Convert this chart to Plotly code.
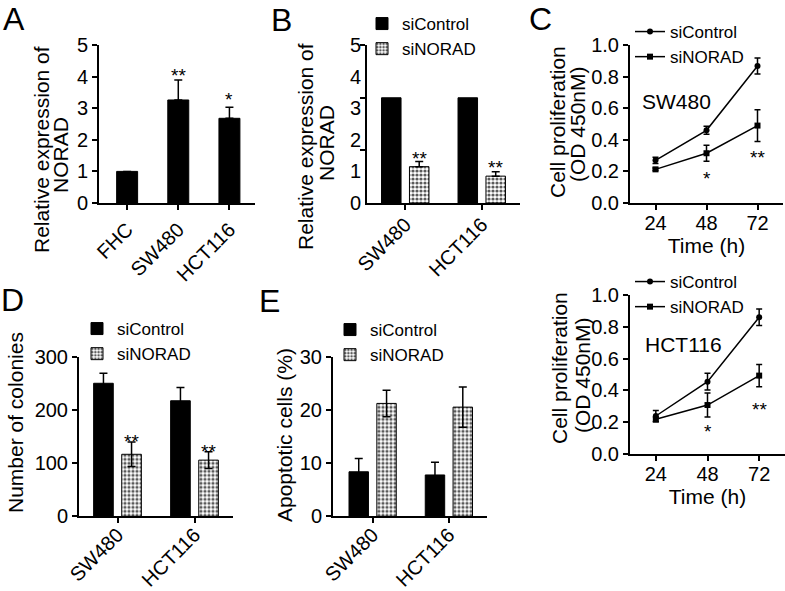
import plotly.graph_objects as go

W, H = 785, 591

# ---------------- data ----------------
a_categories = ["FHC", "SW480", "HCT116"]
a_values = [1.0, 3.26, 2.68]
a_errors = [0.0, 0.63, 0.35]

b_categories = ["SW480", "HCT116"]
b_sicontrol = [3.33, 3.33]
b_sinorad = [1.15, 0.85]
b_sinorad_err = [0.16, 0.14]
b_ticklabels = ["0", "1", "2", "3", "4", "5"]

c_time = [24, 48, 72]
c_sw480_sicontrol = [0.27, 0.46, 0.867]
c_sw480_sicontrol_err = [0.02, 0.025, 0.05]
c_sw480_sinorad = [0.213, 0.315, 0.49]
c_sw480_sinorad_err = [0.008, 0.05, 0.1]
c_hct116_sicontrol = [0.239, 0.455, 0.86]
c_hct116_sicontrol_err = [0.035, 0.053, 0.052]
c_hct116_sinorad = [0.218, 0.308, 0.493]
c_hct116_sinorad_err = [0.015, 0.075, 0.07]

d_categories = ["SW480", "HCT116"]
d_sicontrol = [251, 218]
d_sicontrol_err = [19, 25]
d_sinorad = [117, 106]
d_sinorad_err = [23, 16]

e_categories = ["SW480", "HCT116"]
e_sicontrol = [8.4, 7.8]
e_sicontrol_err = [2.5, 2.4]
e_sinorad = [21.3, 20.6]
e_sinorad_err = [2.5, 3.8]

# ---------------- helpers ----------------
FONT = "Arial, Liberation Sans, Helvetica, sans-serif"


def px(x):
    return x / W


def py(y):
    return 1 - y / H


def dom_x(a, b):
    return [px(a), px(b)]


def dom_y(top, bottom):
    return [py(bottom), py(top)]


BAR_W = 0.255
OFF_CTRL = -0.31
OFF_SI = 0.055

solid = dict(color="black", line=dict(color="black", width=1))
checker = dict(color="white", line=dict(color="black", width=1),
               pattern=dict(shape=".", fgcolor="#5a5a5a", bgcolor="white",
                            size=4, solidity=0.5, fillmode="replace"))


def ebar(arr, minus=None, width=4):
    d = dict(type="data", array=arr, color="black", thickness=1.5, width=width, visible=True)
    if minus is not None:
        d.update(symmetric=False, arrayminus=minus)
    return d


fig = go.Figure()

# Panel A
fig.add_trace(go.Bar(x=a_categories, y=a_values, width=0.41, marker=solid,
                     error_y=ebar(a_errors, [0] * len(a_errors)),
                     xaxis="x", yaxis="y", showlegend=False))

# Panel B
fig.add_trace(go.Bar(x=b_categories, y=b_sicontrol, name="siControl", width=BAR_W, offset=OFF_CTRL,
                     marker=solid, xaxis="x2", yaxis="y2", legend="legend"))
fig.add_trace(go.Bar(x=b_categories, y=b_sinorad, name="siNORAD", width=BAR_W, offset=OFF_SI,
                     marker=checker, error_y=ebar(b_sinorad_err, [0, 0]),
                     xaxis="x2", yaxis="y2", legend="legend"))


# Panel C top / bottom
def line_pair(ctrl, ctrl_err, si, si_err, xa, ya, leg):
    fig.add_trace(go.Scatter(x=c_time, y=ctrl, name="siControl", mode="lines+markers",
                             line=dict(color="black", width=1.5),
                             marker=dict(symbol="circle", size=6, color="black"),
                             error_y=ebar(ctrl_err, width=3), xaxis=xa, yaxis=ya, legend=leg))
    fig.add_trace(go.Scatter(x=c_time, y=si, name="siNORAD", mode="lines+markers",
                             line=dict(color="black", width=1.5),
                             marker=dict(symbol="square", size=6, color="black"),
                             error_y=ebar(si_err, width=3), xaxis=xa, yaxis=ya, legend=leg))


line_pair(c_sw480_sicontrol, c_sw480_sicontrol_err, c_sw480_sinorad, c_sw480_sinorad_err,
          "x3", "y3", "legend2")
line_pair(c_hct116_sicontrol, c_hct116_sicontrol_err, c_hct116_sinorad, c_hct116_sinorad_err,
          "x4", "y4", "legend3")

# Panel D
fig.add_trace(go.Bar(x=d_categories, y=d_sicontrol, name="siControl", width=BAR_W, offset=OFF_CTRL,
                     marker=solid, error_y=ebar(d_sicontrol_err),
                     xaxis="x5", yaxis="y5", legend="legend4"))
fig.add_trace(go.Bar(x=d_categories, y=d_sinorad, name="siNORAD", width=BAR_W, offset=OFF_SI,
                     marker=checker, error_y=ebar(d_sinorad_err),
                     xaxis="x5", yaxis="y5", legend="legend4"))

# Panel E
fig.add_trace(go.Bar(x=e_categories, y=e_sicontrol, name="siControl", width=BAR_W, offset=OFF_CTRL,
                     marker=solid, error_y=ebar(e_sicontrol_err),
                     xaxis="x6", yaxis="y6", legend="legend5"))
fig.add_trace(go.Bar(x=e_categories, y=e_sinorad, name="siNORAD", width=BAR_W, offset=OFF_SI,
                     marker=checker, error_y=ebar(e_sinorad_err),
                     xaxis="x6", yaxis="y6", legend="legend5"))

# ---------------- axes ----------------
TICKF = dict(family=FONT, size=20, color="black")
base = dict(showline=True, linecolor="black", linewidth=2, ticks="outside", tickcolor="black",
            tickwidth=2, ticklen=5, showgrid=False, zeroline=False, tickfont=TICKF,
            automargin=False, fixedrange=True)
TTL = dict(family=FONT, size=21, color="black")

fig.update_layout(
    xaxis=dict(base, domain=dom_x(99, 255), anchor="y", type="category",
               range=[-0.55, 2.5], tickangle=-45),
    yaxis=dict(base, domain=dom_y(45, 203), anchor="x", range=[0, 5], tickvals=[0, 1, 2, 3, 4, 5]),
    xaxis2=dict(base, domain=dom_x(367, 520), anchor="y2", type="category",
                range=[-0.5, 1.5], tickangle=-45, ticklabelstandoff=-5),
    yaxis2=dict(base, domain=dom_y(45, 203), anchor="x2", range=[0, 5],
                tickvals=[0, 1, 2, 3, 4, 5], ticktext=b_ticklabels, ticks="",
                minor=dict(tickmode="array", tickvals=[5 / 3, 10 / 3, 5 - 1e-9], ticks="outside",
                           ticklen=5, tickwidth=2, tickcolor="black")),
    xaxis3=dict(base, domain=dom_x(630, 783), anchor="y3", range=[12, 84], tickvals=c_time,
                ticklabelstandoff=-4,
                title=dict(text="Time (h)", font=TTL, standoff=2)),
    yaxis3=dict(base, domain=dom_y(45, 203), anchor="x3", range=[0, 1.0],
                tickvals=[0, 0.2, 0.4, 0.6, 0.8, 1.0], tickformat=".1f"),
    xaxis4=dict(base, domain=dom_x(630, 785), anchor="y4", range=[12, 84], tickvals=c_time,
                ticklabelstandoff=-4,
                title=dict(text="Time (h)", font=TTL, standoff=2)),
    yaxis4=dict(base, domain=dom_y(295, 454), anchor="x4", range=[0, 1.0],
                tickvals=[0, 0.2, 0.4, 0.6, 0.8, 1.0], tickformat=".1f"),
    xaxis5=dict(base, domain=dom_x(79, 233), anchor="y5", type="category",
                range=[-0.5, 1.5], tickangle=-45, ticklabelstandoff=-8),
    yaxis5=dict(base, domain=dom_y(357.3, 516.3), anchor="x5", range=[0, 300],
                tickvals=[0, 100, 200, 300]),
    xaxis6=dict(base, domain=dom_x(333, 487), anchor="y6", type="category",
                range=[-0.52, 1.5], tickangle=-45, ticklabelstandoff=-8),
    yaxis6=dict(base, domain=dom_y(357.3, 516.3), anchor="x6", range=[0, 30],
                tickvals=[0, 10, 20, 30]),
)

# ---------------- legends ----------------
LEGF = dict(family=FONT, size=17, color="black")


def leg(xl, ytop):
    return dict(x=px(xl), y=py(ytop), xanchor="left", yanchor="top", font=LEGF,
                bgcolor="rgba(0,0,0,0)", borderwidth=0, tracegroupgap=0, itemwidth=30)


fig.update_layout(
    legend=leg(362, 6),
    legend2=leg(630, 14),
    legend3=leg(630, 264),
    legend4=leg(77, 311),
    legend5=leg(330, 312),
)

# ---------------- annotations ----------------
ann = []


def text_px(x, y, t, size=21, angle=0, xanchor="center", yanchor="middle"):
    ann.append(dict(x=px(x), y=py(y), xref="paper", yref="paper", text=t, showarrow=False,
                    textangle=angle, xanchor=xanchor, yanchor=yanchor, borderpad=0,
                    font=dict(family=FONT, size=size, color="black")))


def text_data(xa, ya, x, y, t, size=19, xanchor="center"):
    ann.append(dict(x=x, y=y, xref=xa, yref=ya, text=t, showarrow=False, xanchor=xanchor,
                    yanchor="middle", font=dict(family=FONT, size=size, color="black")))


# panel letters
text_px(14, 0, "A", size=32, yanchor="top")
text_px(281, 1, "B", size=32, yanchor="top")
text_px(540, 0, "C", size=32, yanchor="top")
text_px(12, 300, "D", size=32)
text_px(269, 301, "E", size=32)

# y-axis titles
text_px(41, 150, "Relative expression of", angle=-90)
text_px(61, 155, "NORAD", angle=-90)
text_px(306, 147, "Relative expression of", angle=-90)
text_px(326, 143, "NORAD", angle=-90)
text_px(557, 122, "Cell proliferation", angle=-90)
text_px(577, 124, "(OD 450nM)", angle=-90)
text_px(559, 368, "Cell proliferation", angle=-90)
text_px(582, 375, "(OD 450nM)", angle=-90)
text_px(15, 423, "Number of colonies", angle=-90)
text_px(284, 435, "Apoptotic cells (%)", angle=-90)

# cell line labels in C
text_data("x3", "y3", 16.7, 0.64, "SW480", size=21, xanchor="left")
text_data("x4", "y4", 18.0, 0.69, "HCT116", size=21, xanchor="left")

# significance stars
text_data("x", "y", "SW480", 4.05, "**")
text_data("x", "y", "HCT116", 3.26, "*")
text_data("x2", "y2", 0.1825, 1.42, "**")
text_data("x2", "y2", 1.1825, 1.11, "**")
text_data("x3", "y3", 48, 0.158, "*")
text_data("x3", "y3", 72, 0.285, "**")
text_data("x4", "y4", 48, 0.14, "*")
text_data("x4", "y4", 72, 0.277, "**")
text_data("x5", "y5", 0.1825, 141, "**")
text_data("x5", "y5", 1.1825, 123, "**")

fig.update_layout(
    annotations=ann,
    width=W, height=H,
    margin=dict(l=0, r=0, t=0, b=0, pad=0),
    template="none",
    paper_bgcolor="white", plot_bgcolor="white",
    barmode="overlay",
    font=dict(family=FONT, color="black"),
)

fig.write_html("out.html", config={"displayModeBar": False},
               post_script="document.body.style.margin='0px';document.body.style.padding='0px';")
